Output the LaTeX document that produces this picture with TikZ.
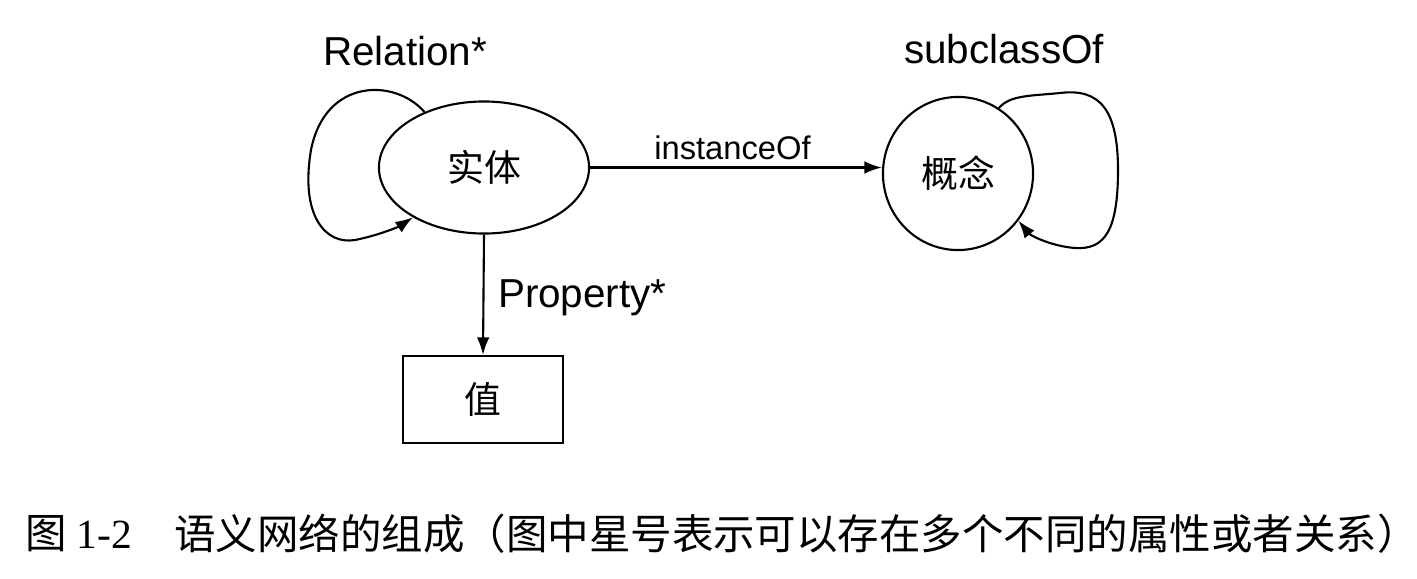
\documentclass[tikz,border=0pt]{standalone}
\usepackage{fontspec}
\setmainfont{Liberation Sans}
\newfontfamily\cjk{Noto Sans CJK SC}
\newfontfamily\capserif{Liberation Serif}
\usetikzlibrary{shapes.geometric,arrows.meta}
\begin{document}
\begin{tikzpicture}[x=0.01cm,y=-0.01cm,
  every path/.style={line width=0.6pt},
  arr/.style={-{Latex[length=5pt,width=3.6pt]}},
  cjknode/.style={font=\cjk\fontsize{10.5pt}{12pt}\selectfont},
  biglabel/.style={font=\fontsize{11.5pt}{13pt}\selectfont,inner sep=0pt},
  smalllabel/.style={font=\fontsize{9.3pt}{11pt}\selectfont,inner sep=0pt},
  entity/.style={ellipse,draw,minimum width=2.1cm,minimum height=1.32cm,inner sep=0pt,cjknode},
  concept/.style={ellipse,draw,minimum width=1.5cm,minimum height=1.53cm,inner sep=0pt,cjknode},
  valuebox/.style={rectangle,draw,minimum width=1.6cm,minimum height=0.87cm,inner sep=0pt,cjknode},
  captext/.style={font=\cjk\fontsize{11.8pt}{14pt}\selectfont,inner sep=0pt,anchor=west}
]
\useasboundingbox (0,0) rectangle (1417,578);

\node[entity] (shiti) at (484,167.5) {实体};
\node[concept] (gainian) at (958,173.5) {概念};
\node[valuebox] (zhi) at (483,399.5) {值};

\draw[arr] (shiti.east) -- (shiti.east -| gainian.west);
\node[smalllabel,anchor=base] (lblinst) at (732.5,159) {instanceOf};
\draw[arr] (shiti.south) -- (zhi.north);
\node[biglabel,anchor=base west] (lblprop) at (497,307) {Property*};

\draw[arr] (shiti.137) .. controls (395,78) and (325,78) .. (311,150)
  .. controls (300,215) and (325,245) .. (355,240)
  .. controls (380,235) and (400,226) .. (shiti.215);
\node[biglabel,anchor=base west] (lblrel) at (322,65) {Relation*};

\draw[arr] (gainian.58) .. controls (1010,95) and (1030,96) .. (1060,93)
  .. controls (1100,88) and (1118,110) .. (1118,170)
  .. controls (1118,230) and (1105,250) .. (1075,248)
  .. controls (1050,246) and (1030,235) .. (gainian.322);
\node[biglabel,anchor=base west] (lblsub) at (903,63) {subclassOf};

\node[captext] (cap1) at (24,534) {图{\capserif\ 1-2}};
\node[captext] (cap2) at (173,534) {语义网络的组成（图中星号表示可以存在多个不同的属性或者关系）};
\end{tikzpicture}
\end{document}
